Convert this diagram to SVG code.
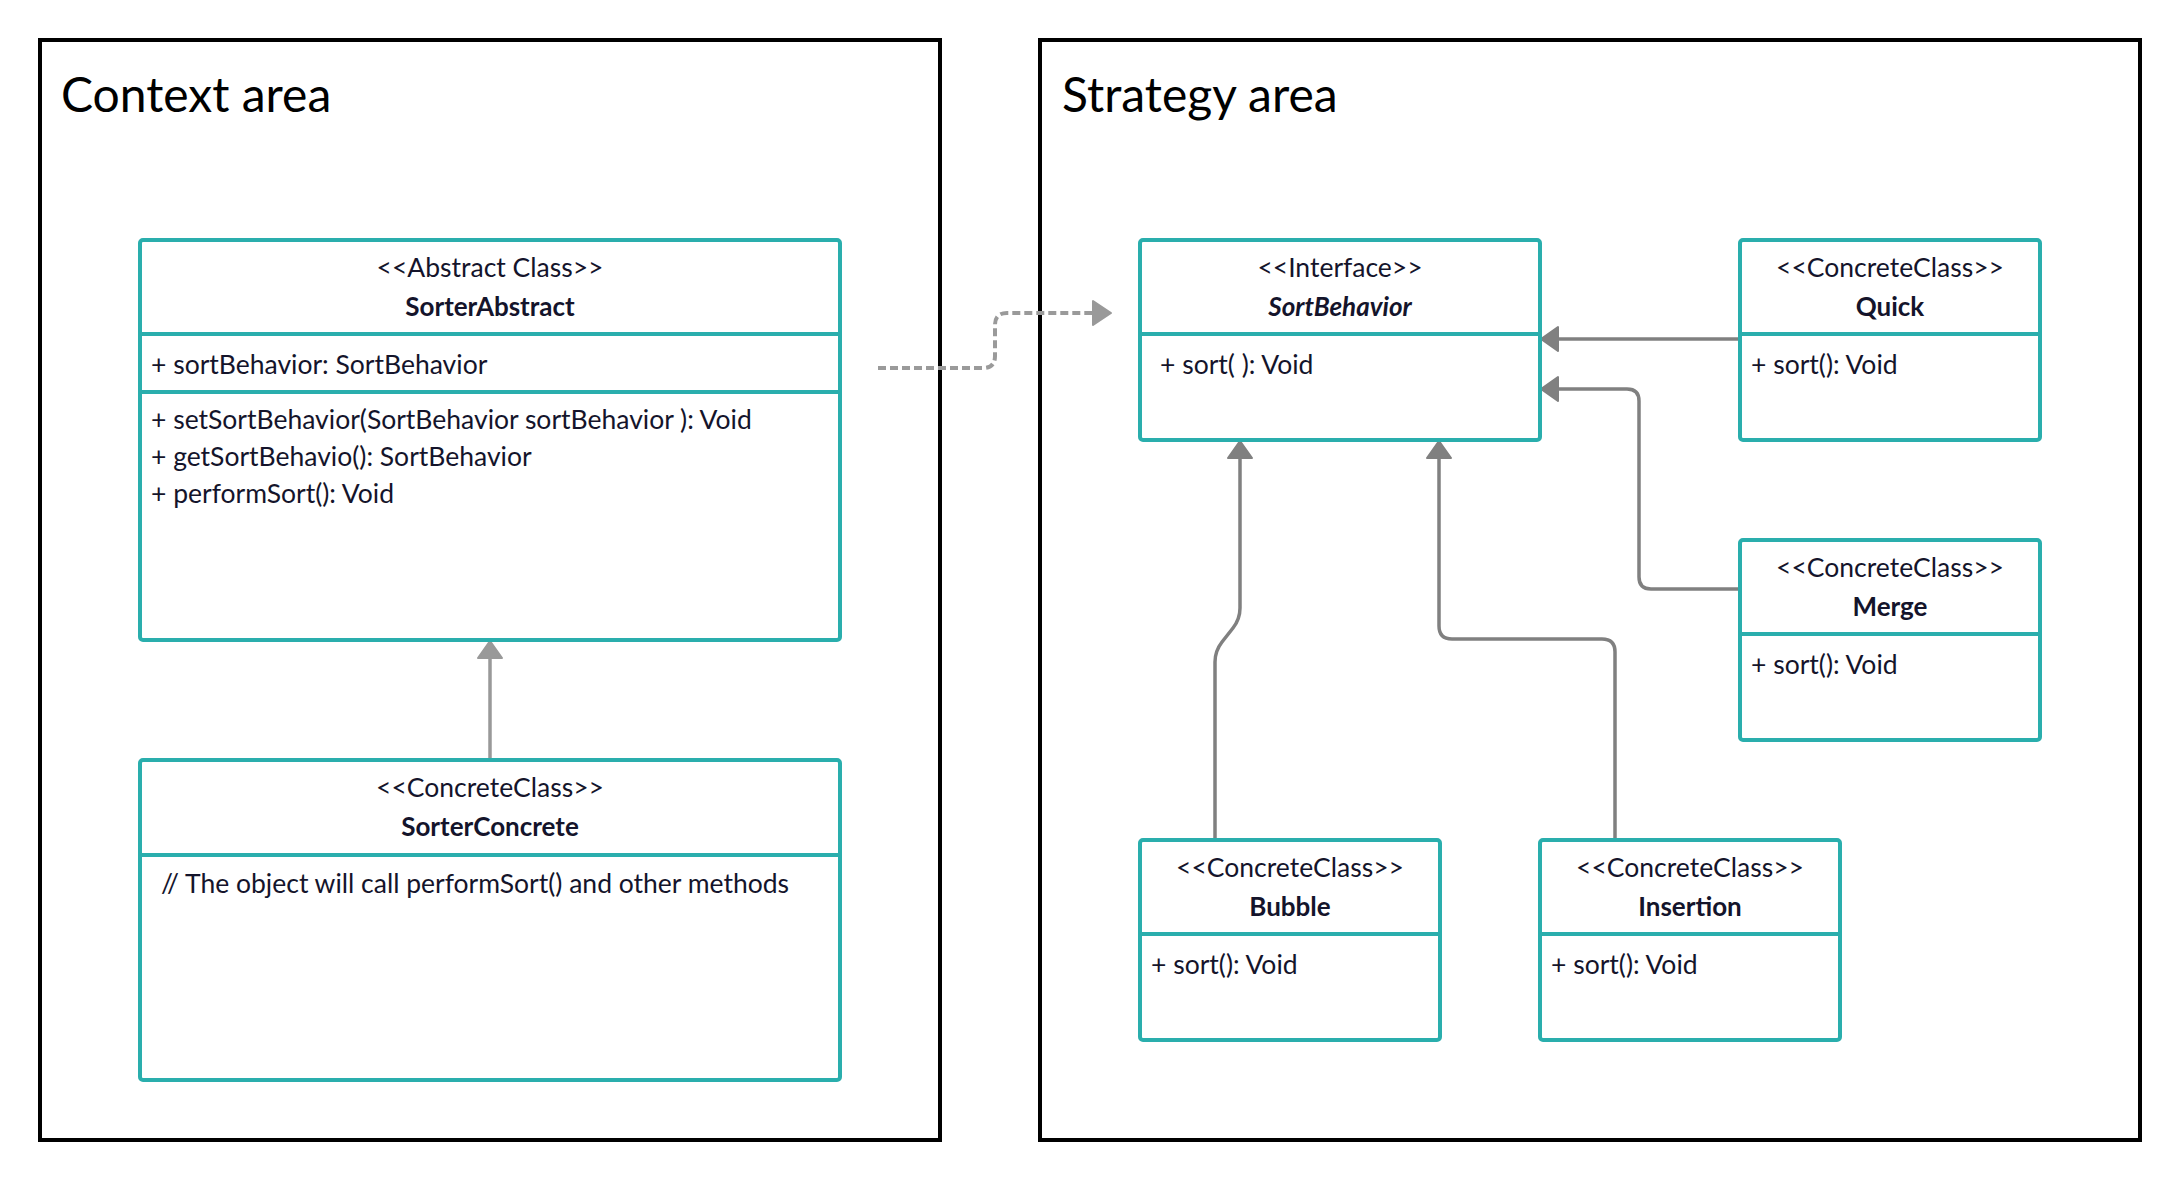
<svg xmlns="http://www.w3.org/2000/svg" width="2180" height="1180" viewBox="0 0 2180 1180">
<style>
  .frame { fill: #ffffff; stroke: #000000; stroke-width: 4; }
  .title { font-family: Lato, "Noto Sans", sans-serif; font-size: 48px; fill: #000000; }
  .box { fill: #ffffff; stroke: #2aaead; stroke-width: 4; }
  .div { stroke: #2aaead; stroke-width: 4; }
  .st { font-family: Lato, "Noto Sans", sans-serif; font-size: 26.5px; fill: #14142b; text-anchor: middle; }
  .nm { font-family: Lato, "Noto Sans", sans-serif; font-size: 26px; font-weight: bold; fill: #14142b; text-anchor: middle; }
  .tx { font-family: Lato, "Noto Sans", sans-serif; font-size: 26.5px; fill: #14142b; }
  .conn { fill: none; stroke: #808080; stroke-width: 3.5; }
  .connl { fill: none; stroke: #999999; stroke-width: 3.5; }
  .dash { fill: none; stroke: #9a9a9a; stroke-width: 4; stroke-dasharray: 8 4; }
  .head { fill: #808080; stroke: #808080; stroke-width: 2; stroke-linejoin: round; }
  .headl { fill: #999999; stroke: #999999; stroke-width: 2; stroke-linejoin: round; }
</style>
<rect width="2180" height="1180" fill="#ffffff"/>

<g id="context-area">
  <rect class="frame" x="40" y="40" width="900" height="1100"/>
  <text class="title" x="61" y="112">Context area</text>
</g>
<g id="strategy-area">
  <rect class="frame" x="1040" y="40" width="1100" height="1100"/>
  <text class="title" x="1062" y="112">Strategy area</text>
</g>

<g id="connectors">
  <path class="connl" d="M490 760 L490 657"/>
  <polygon class="headl" points="490,641 478,658 502,658"/>
  <path class="dash" d="M878 368 L983 368 Q995 368 995 356 L995 325 Q995 313 1007 313 L1092 313"/>
  <polygon class="headl" points="1111,313 1093,301 1093,325"/>
  <path class="conn" d="M1740 339 L1556 339"/>
  <polygon class="head" points="1541,339 1558,327 1558,351"/>
  <path class="conn" d="M1740 589 L1651 589 Q1639 589 1639 577 L1639 401 Q1639 389 1627 389 L1556 389"/>
  <polygon class="head" points="1541,389 1558,377 1558,401"/>
  <path class="conn" d="M1215 840 L1215 662 Q1215 651 1222 642 L1233 628 Q1240 619 1240 608 L1240 457"/>
  <polygon class="head" points="1240,441 1228,458 1252,458"/>
  <path class="conn" d="M1615 840 L1615 652 Q1615 639 1602 639 L1452 639 Q1439 639 1439 626 L1439 457"/>
  <polygon class="head" points="1439,441 1427,458 1451,458"/>
</g>

<g id="SorterAbstract">
  <rect class="box" x="140" y="240" width="700" height="400" rx="3"/>
  <line class="div" x1="140" y1="334" x2="840" y2="334"/>
  <line class="div" x1="140" y1="392" x2="840" y2="392"/>
  <text class="st" x="490" y="277">&lt;&lt;Abstract Class&gt;&gt;</text>
  <text class="nm" x="490" y="316">SorterAbstract</text>
  <text class="tx" x="151" y="374">+ sortBehavior: SortBehavior</text>
  <text class="tx" x="151" y="429">+ setSortBehavior(SortBehavior sortBehavior ): Void</text>
  <text class="tx" x="151" y="466">+ getSortBehavio(): SortBehavior</text>
  <text class="tx" x="151" y="503">+ performSort(): Void</text>
</g>

<g id="SorterConcrete">
  <rect class="box" x="140" y="760" width="700" height="320" rx="3"/>
  <line class="div" x1="140" y1="855" x2="840" y2="855"/>
  <text class="st" x="490" y="797">&lt;&lt;ConcreteClass&gt;&gt;</text>
  <text class="nm" x="490" y="836">SorterConcrete</text>
  <text class="tx" x="161" y="893">// The object will call performSort() and other methods</text>
</g>

<g id="SortBehavior">
  <rect class="box" x="1140" y="240" width="400" height="200" rx="3"/>
  <line class="div" x1="1140" y1="334" x2="1540" y2="334"/>
  <text class="st" x="1340" y="277">&lt;&lt;Interface&gt;&gt;</text>
  <text class="nm" x="1340" y="316" font-style="italic">SortBehavior</text>
  <text class="tx" x="1160" y="374">+ sort( ): Void</text>
</g>

<g id="Quick">
  <rect class="box" x="1740" y="240" width="300" height="200" rx="3"/>
  <line class="div" x1="1740" y1="334" x2="2040" y2="334"/>
  <text class="st" x="1890" y="277">&lt;&lt;ConcreteClass&gt;&gt;</text>
  <text class="nm" x="1890" y="316">Quick</text>
  <text class="tx" x="1751" y="374">+ sort(): Void</text>
</g>

<g id="Merge">
  <rect class="box" x="1740" y="540" width="300" height="200" rx="3"/>
  <line class="div" x1="1740" y1="634" x2="2040" y2="634"/>
  <text class="st" x="1890" y="577">&lt;&lt;ConcreteClass&gt;&gt;</text>
  <text class="nm" x="1890" y="616">Merge</text>
  <text class="tx" x="1751" y="674">+ sort(): Void</text>
</g>

<g id="Bubble">
  <rect class="box" x="1140" y="840" width="300" height="200" rx="3"/>
  <line class="div" x1="1140" y1="934" x2="1440" y2="934"/>
  <text class="st" x="1290" y="877">&lt;&lt;ConcreteClass&gt;&gt;</text>
  <text class="nm" x="1290" y="916">Bubble</text>
  <text class="tx" x="1151" y="974">+ sort(): Void</text>
</g>

<g id="Insertion">
  <rect class="box" x="1540" y="840" width="300" height="200" rx="3"/>
  <line class="div" x1="1540" y1="934" x2="1840" y2="934"/>
  <text class="st" x="1690" y="877">&lt;&lt;ConcreteClass&gt;&gt;</text>
  <text class="nm" x="1690" y="916">Insertion</text>
  <text class="tx" x="1551" y="974">+ sort(): Void</text>
</g>
</svg>
